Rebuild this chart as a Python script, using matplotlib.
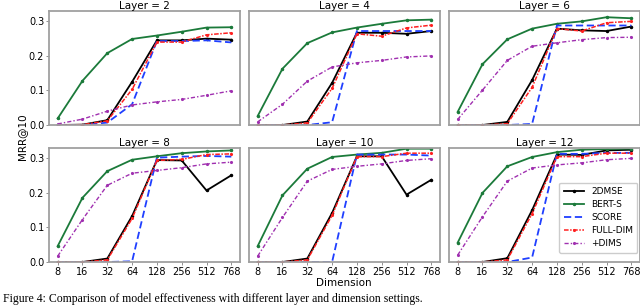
import matplotlib
matplotlib.use("Agg")
import matplotlib.pyplot as plt
import numpy as np

dims = ["8", "16", "32", "64", "128", "256", "512", "768"]
layers = [2, 4, 6, 8, 10, 12]

mse_2d = {
    2:  [0.000, 0.001, 0.014, 0.125, 0.245, 0.245, 0.250, 0.247],
    4:  [0.000, 0.000, 0.010, 0.122, 0.267, 0.267, 0.264, 0.272],
    6:  [0.000, 0.000, 0.009, 0.130, 0.279, 0.274, 0.272, 0.285],
    8:  [0.000, 0.000, 0.010, 0.133, 0.295, 0.294, 0.207, 0.251],
    10: [0.000, 0.000, 0.010, 0.142, 0.306, 0.306, 0.195, 0.238],
    12: [0.000, 0.000, 0.011, 0.150, 0.311, 0.310, 0.323, 0.325],
}
bert_s = {
    2:  [0.019, 0.128, 0.208, 0.249, 0.259, 0.270, 0.282, 0.283],
    4:  [0.026, 0.163, 0.237, 0.268, 0.282, 0.293, 0.303, 0.305],
    6:  [0.038, 0.176, 0.248, 0.279, 0.293, 0.300, 0.312, 0.309],
    8:  [0.046, 0.186, 0.263, 0.296, 0.306, 0.315, 0.320, 0.323],
    10: [0.046, 0.193, 0.270, 0.304, 0.311, 0.316, 0.328, 0.328],
    12: [0.056, 0.200, 0.277, 0.304, 0.318, 0.325, 0.327, 0.328],
}
score = {
    2:  [0.000, 0.000, 0.007, 0.060, 0.243, 0.243, 0.245, 0.239],
    4:  [0.000, 0.000, 0.000, 0.008, 0.272, 0.272, 0.272, 0.272],
    6:  [0.000, 0.000, 0.000, 0.003, 0.288, 0.288, 0.288, 0.288],
    8:  [0.000, 0.000, 0.000, 0.002, 0.302, 0.305, 0.307, 0.305],
    10: [0.000, 0.000, 0.000, 0.000, 0.311, 0.311, 0.311, 0.308],
    12: [0.000, 0.000, 0.000, 0.013, 0.313, 0.313, 0.316, 0.316],
}
full_dim = {
    2:  [0.000, 0.001, 0.012, 0.103, 0.240, 0.240, 0.261, 0.267],
    4:  [0.000, 0.000, 0.006, 0.106, 0.264, 0.257, 0.281, 0.289],
    6:  [0.000, 0.000, 0.004, 0.109, 0.279, 0.272, 0.296, 0.300],
    8:  [0.000, 0.000, 0.006, 0.126, 0.294, 0.297, 0.311, 0.313],
    10: [0.000, 0.000, 0.006, 0.135, 0.305, 0.305, 0.315, 0.315],
    12: [0.000, 0.000, 0.006, 0.140, 0.305, 0.305, 0.315, 0.315],
}
plus_dims = {
    2:  [0.003, 0.017, 0.040, 0.058, 0.067, 0.074, 0.086, 0.099],
    4:  [0.009, 0.060, 0.127, 0.168, 0.180, 0.187, 0.197, 0.200],
    6:  [0.016, 0.101, 0.187, 0.228, 0.238, 0.247, 0.253, 0.254],
    8:  [0.017, 0.123, 0.222, 0.257, 0.265, 0.273, 0.284, 0.289],
    10: [0.017, 0.129, 0.234, 0.268, 0.277, 0.284, 0.294, 0.299],
    12: [0.020, 0.131, 0.234, 0.272, 0.281, 0.287, 0.296, 0.300],
}

series = [
    ("2DMSE", mse_2d, dict(color="black", ls="-", marker=".", ms=3, lw=1.3)),
    ("BERT-S", bert_s, dict(color="#1b7a3a", ls="-", marker=".", ms=3, lw=1.3)),
    ("SCORE", score, dict(color="#1f3fff", ls=(0, (4, 2)), marker=None, lw=1.3)),
    ("FULL-DIM", full_dim, dict(color="#ff2020", ls=(0, (3, 1, 1, 1)), marker=".", ms=2.5, lw=1.1)),
    ("+DIMS", plus_dims, dict(color="#a030b0", ls=(0, (3, 1.5, 1, 1.5)), marker=".", ms=2.5, lw=1.0)),
]

plt.rcParams['font.family'] = ['DejaVu Sans']
fig = plt.figure(figsize=(6.4, 3.07), dpi=100)

lefts = [49, 249, 449]
tops = [11, 148]
W, H = 191, 114
x = np.arange(len(dims))
axes = []
for i, layer in enumerate(layers):
    r, c = divmod(i, 3)
    ax = fig.add_axes([lefts[c] / 640, 1 - (tops[r] + H) / 307, W / 640, H / 307])
    axes.append(ax)
    for name, data, st in series:
        ax.plot(x, data[layer], label=name, **st)
    ax.set_ylim(0, 0.33)
    ax.set_xlim(-0.35, 7.35)
    ax.set_yticks([0.0, 0.1, 0.2, 0.3])
    ax.set_xticks(x)
    ax.set_title(f"Layer = {layer}", fontsize=7.5, pad=1.5)
    for s in ax.spines.values():
        s.set_color("#a0a0a0")
        s.set_linewidth(1.3)
    ax.tick_params(labelsize=7, length=2, width=0.6, color="#808080", pad=1.5)
    if c == 0:
        ax.set_yticklabels(["0.0", "0.1", "0.2", "0.3"])
    else:
        ax.set_yticklabels([])
        ax.tick_params(axis="y", length=0)
    if r == 1:
        ax.set_xticklabels(dims)
    else:
        ax.set_xticklabels([])
        ax.tick_params(axis="x", length=0)

axes[5].legend(loc="lower right", fontsize=6.5, frameon=True, handlelength=2.2,
               borderpad=0.5, labelspacing=0.45, edgecolor="#c0c0c0",
               bbox_to_anchor=(1.01, 0.04))

fig.text(22 / 640, 1 - 137 / 307, "MRR@10", rotation=90, fontsize=7.5, ha="center", va="center")
fig.text(344 / 640, 1 - 283 / 307, "Dimension", fontsize=7.5, ha="center", va="center")
fig.text(3 / 640, 1 - 305 / 307,
         "Figure 4: Comparison of model effectiveness with different layer and dimension settings.",
         family=["Liberation Serif", "DejaVu Serif"], fontsize=8.5, ha="left", va="bottom")

fig.savefig("out.png", dpi=100)
